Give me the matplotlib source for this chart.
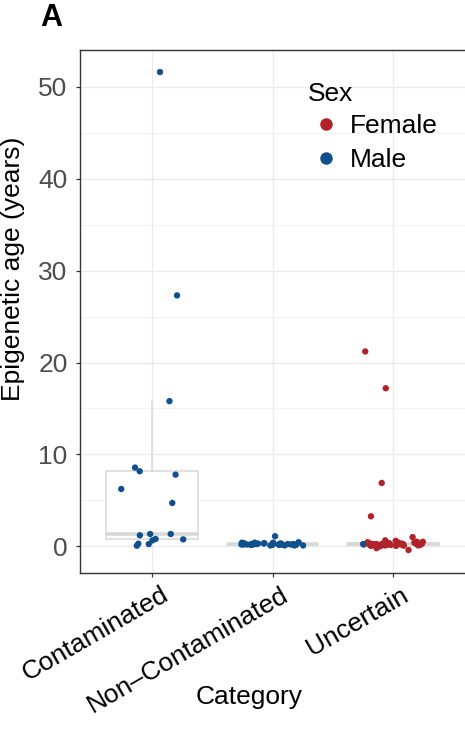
import numpy as np
import matplotlib
matplotlib.use("Agg")
import matplotlib.pyplot as plt
import matplotlib.transforms as mtransforms
from matplotlib.lines import Line2D

plt.rcParams['font.family'] = ['Liberation Sans', 'DejaVu Sans']

categories = ["Contaminated", "Non\u2013Contaminated", "Uncertain"]

# Epigenetic age values (years) by category and sex
contaminated_male = [51.6, 27.3, 15.8, 8.57, 8.17, 7.8, 6.24, 4.72, 1.34, 1.34,
                     1.2, 0.29, 0.07, 0.25, 0.65, 0.8, 0.76]
contaminated_female = []
noncont_male = [0.2, 0.3, 0.1, 0.4, 0.25, 0.15, 0.35, 0.2, 0.3, 0.1, 0.45, 0.2,
                0.3, 0.15, 0.25, 0.4, 0.2, 0.1, 0.3, 0.35, 0.2, 0.25, 0.15, 0.3,
                0.2, 0.4, 0.1, 0.3, 0.25, 0.2, 1.1, 0.35, 0.15, 0.3, 0.2]
noncont_female = []
uncertain_female = [21.2, 17.2, 6.9, 3.27, 1.0, 0.65, 0.5, 0.4, 0.3, 0.2, 0.1,
                    0.05, 0.35, 0.25, 0.15, 0.45, 0.3, 0.2, 0.1, 0.0, 0.3, 0.25,
                    0.15, 0.4, 0.2, 0.1, 0.35, 0.3, 0.2, 0.15, 0.05, 0.25, 0.5,
                    0.3, 0.2, 0.1, 0.4, -0.2, 0.2, 0.3, 0.15, 0.6, 0.25, -0.4]
uncertain_male = [0.25]

y_ticks = [0, 10, 20, 30, 40, 50]
sex_labels = ["Female", "Male"]
colors = {"Female": "#B2222A", "Male": "#10508F"}

female_data = [contaminated_female, noncont_female, uncertain_female]
male_data = [contaminated_male, noncont_male, uncertain_male]

fig = plt.figure(figsize=(4.65, 7.3), dpi=100)
ax = fig.add_axes([80 / 465, 1 - 573 / 730, 385 / 465, 523 / 730])

positions = [1, 2, 3]
all_data = [np.array(f + m) for f, m in zip(female_data, male_data)]

box_col = "#D9D9D9"
bp = ax.boxplot(all_data, positions=positions, widths=0.76, showfliers=False,
                patch_artist=True, whis=1.5, showcaps=False,
                boxprops=dict(facecolor="white", edgecolor=box_col, linewidth=1.1),
                whiskerprops=dict(color=box_col, linewidth=1.1),
                medianprops=dict(color=box_col, linewidth=2.6),
                zorder=2)

rng = np.random.default_rng(7)
for i, (f, m) in enumerate(zip(female_data, male_data)):
    for vals, sex in ((f, "Female"), (m, "Male")):
        if len(vals) == 0:
            continue
        x = positions[i] + rng.uniform(-0.26, 0.26, len(vals))
        ax.scatter(x, vals, s=21, color=colors[sex], edgecolors="none", zorder=3)

ax.set_xlim(0.4, 3.6)
ax.set_ylim(-2.9, 54.0)
ax.set_yticks(y_ticks)
ax.set_yticks([5, 15, 25, 35, 45], minor=True)
ax.set_xticks(positions)
ax.set_xticklabels(categories)

ax.grid(True, which="major", color="#EBEBEB", linewidth=1.0, zorder=0)
ax.grid(True, which="minor", axis="y", color="#F2F2F2", linewidth=0.8, zorder=0)
ax.set_axisbelow(True)

for s in ("left", "bottom", "top"):
    ax.spines[s].set_color("#333333")
    ax.spines[s].set_linewidth(1.0)
ax.spines["right"].set_visible(False)

ax.tick_params(axis="both", which="major", length=3, width=0.9, color="#333333",
               labelsize=19, labelcolor="#4D4D4D", pad=6)
ax.tick_params(axis="y", which="minor", length=0)
ax.tick_params(axis="x", labelcolor="black", pad=4)

offset = mtransforms.ScaledTranslation(0.08, 0.0, fig.dpi_scale_trans)
for lab in ax.get_xticklabels():
    lab.set_rotation(30)
    lab.set_ha("right")
    lab.set_va("top")
    lab.set_rotation_mode("anchor")
    lab.set_transform(lab.get_transform() + offset)

ax.set_ylabel("Epigenetic age (years)", fontsize=19, color="black")
ax.yaxis.set_label_coords((13 - 80) / 385, (573 - 269) / 523)
ax.yaxis.label.set_va("center")
ax.set_xlabel("Category", fontsize=19, color="black")
ax.xaxis.set_label_coords((249 - 80) / 385, (573 - 697) / 523)
ax.xaxis.label.set_va("center")

handles = [Line2D([], [], marker="o", ls="", color=colors[s], markersize=9,
                  markeredgewidth=0) for s in sex_labels]
leg = ax.legend(handles, sex_labels, title="Sex", loc="upper left",
                bbox_to_anchor=((308 - 80) / 385, (573 - 82) / 523),
                frameon=False, fontsize=19, title_fontsize=19,
                handlelength=1.4, handletextpad=0.2, labelspacing=0.38,
                borderpad=0, borderaxespad=0)
leg._legend_box.align = "left"
leg._legend_box.sep = 6

fig.text(51 / 465, 1 - 18 / 730, "A", fontsize=22, fontweight="bold",
         ha="center", va="center")

fig.savefig("out.png", dpi=100)
